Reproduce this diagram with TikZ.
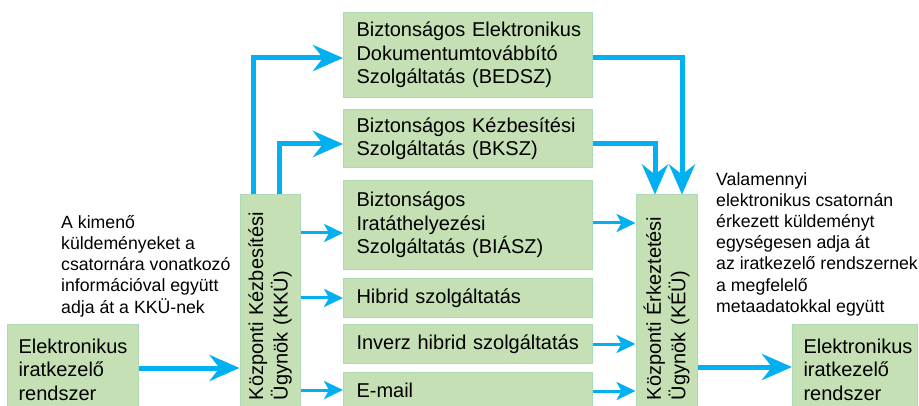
\documentclass[tikz,border=0pt]{standalone}
\usepackage{fontspec}
\setmainfont{Liberation Sans}
\usetikzlibrary{arrows.meta}
\definecolor{boxfill}{RGB}{197,224,180}
\definecolor{boxline}{RGB}{172,218,180}
\definecolor{flow}{RGB}{0,176,240}
\tikzset{
  box/.style={draw=boxline, line width=1pt, fill=boxfill, inner xsep=13pt, inner ysep=0pt,
    align=left, font=\fontsize{20}{23.5}\selectfont, anchor=north west},
  agent/.style={draw=boxline, line width=1pt, fill=boxfill, inner xsep=13pt, inner ysep=0pt,
    align=left, font=\fontsize{20}{24.5}\selectfont, rotate=90, anchor=center},
  note/.style={inner sep=0pt, align=left, anchor=north west, font=\fontsize{17.7}{21.2}\selectfont},
  bigflow/.style={draw=flow, line width=5pt, -{Stealth[length=30pt,width=26pt,inset=10pt]}},
  smallflow/.style={draw=flow, line width=3pt, -{Stealth[length=19pt,width=18pt,inset=5pt]}},
}
\begin{document}
\begin{tikzpicture}[x=1pt, y=-1pt]
\clip (0,0) rectangle (919,406);
\fill[white] (0,0) rectangle (919,406);

% source and target record systems
\node[box, minimum width=131pt, minimum height=90pt, text width=109pt, inner xsep=11pt] (src) at (7,324)
  {\mbox{Elektronikus}\\iratkezelő\\rendszer};
\node[box, minimum width=125pt, minimum height=90pt, text width=103pt, inner xsep=11pt] (dst) at (792,324)
  {\mbox{Elektronikus}\\iratkezelő\\rendszer};

% central agents
\node[agent, minimum width=218pt, minimum height=60pt, text width=192pt] (kku) at (270,304)
  {Központi Kézbesítési\\Ügynök (KKÜ)};
\node[agent, minimum width=218pt, minimum height=61pt, text width=192pt] (keu) at (666.5,304)
  {Központi Érkeztetési\\Ügynök (KÉÜ)};

% delivery channels
\node[box, minimum width=249pt, minimum height=85pt, text width=223pt] (bedsz) at (343,12)
  {\mbox{Biztonságos Elektronikus}\\Dokumentumtovábbító\\Szolgáltatás (BEDSZ)};
\node[box, minimum width=249pt, minimum height=58pt, text width=223pt] (bksz) at (343,109)
  {Biztonságos Kézbesítési\\Szolgáltatás (BKSZ)};
\node[box, minimum width=249pt, minimum height=89pt, text width=223pt] (biasz) at (343,180)
  {Biztonságos\\Iratáthelyezési\\Szolgáltatás (BIÁSZ)};
\node[box, minimum width=249pt, minimum height=39pt, text width=223pt] (hibrid) at (343,278)
  {Hibrid szolgáltatás};
\node[box, minimum width=249pt, minimum height=39pt, text width=223pt] (inverz) at (343,324)
  {\mbox{Inverz hibrid szolgáltatás}};
\node[box, minimum width=249pt, minimum height=39pt, text width=223pt] (email) at (343,372)
  {E-mail\vphantom{g}};

% explanatory notes
\node[note] (outnote) at (61,215)
  {A kimenő\\küldeményeket a\\csatornára vonatkozó\\információval együtt\\adja át a KKÜ-nek};
\node[note] (innote) at (716,172)
  {Valamennyi\\elektronikus csatornán\\érkezett küldeményt\\egységesen adja át\\az iratkezelő rendszernek\\a megfelelő\\metaadatokkal együtt};

% outgoing flows
\draw[bigflow] (src.east |- 0,368) -- (kku.north |- 0,368);
\draw[bigflow] (253,0 |- kku.east) |- (bedsz.west |- 0,58);
\draw[bigflow] (279,0 |- kku.east) |- (bksz.west |- 0,144);
\draw[smallflow] (kku.south |- 0,233) -- (biasz.west |- 0,233);
\draw[smallflow] (kku.south |- hibrid.west) -- (hibrid.west);
\draw[smallflow] (kku.south |- 0,390) -- (email.west |- 0,390);

% incoming flows
\draw[bigflow] (bedsz.east |- 0,58) -| (682,0 |- keu.east);
\draw[bigflow] (bksz.east |- 0,144) -| (655,0 |- keu.east);
\draw[smallflow] (biasz.east |- 0,223) -- (keu.north |- 0,223);
\draw[smallflow] (inverz.east) -- (keu.north |- inverz.east);
\draw[smallflow] (email.east |- 0,391) -- (keu.north |- 0,391);
\draw[bigflow] (keu.south |- 0,367) -- (dst.west |- 0,367);
\end{tikzpicture}
\end{document}
